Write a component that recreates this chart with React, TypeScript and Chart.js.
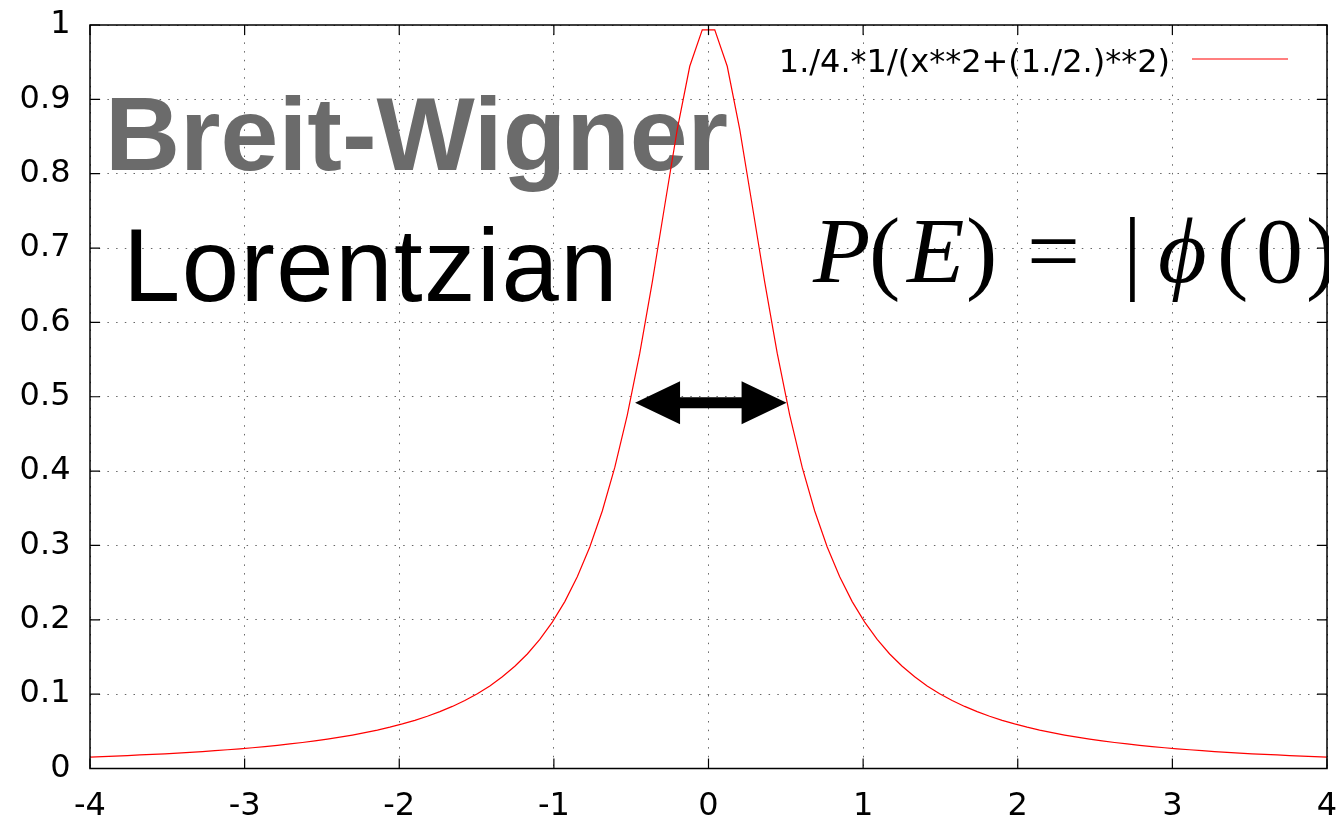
import React, { useEffect, useRef } from "react";
import { Chart, registerables } from "chart.js";

Chart.register(...registerables);

// sampled abscissae of the plotted curve (100 samples from -4 to 4)
const X_SAMPLES = [
  -4.0, -3.9192, -3.8384, -3.7576, -3.6768, -3.596, -3.5152, -3.4343, -3.3535, -3.2727,
  -3.1919, -3.1111, -3.0303, -2.9495, -2.8687, -2.7879, -2.7071, -2.6263, -2.5455, -2.4646,
  -2.3838, -2.303, -2.2222, -2.1414, -2.0606, -1.9798, -1.899, -1.8182, -1.7374, -1.6566,
  -1.5758, -1.4949, -1.4141, -1.3333, -1.2525, -1.1717, -1.0909, -1.0101, -0.9293, -0.8485,
  -0.7677, -0.6869, -0.6061, -0.5253, -0.4444, -0.3636, -0.2828, -0.202, -0.1212, -0.0404,
  0.0404, 0.1212, 0.202, 0.2828, 0.3636, 0.4444, 0.5253, 0.6061, 0.6869, 0.7677,
  0.8485, 0.9293, 1.0101, 1.0909, 1.1717, 1.2525, 1.3333, 1.4141, 1.4949, 1.5758,
  1.6566, 1.7374, 1.8182, 1.899, 1.9798, 2.0606, 2.1414, 2.2222, 2.303, 2.3838,
  2.4646, 2.5455, 2.6263, 2.7071, 2.7879, 2.8687, 2.9495, 3.0303, 3.1111, 3.1919,
  3.2727, 3.3535, 3.4343, 3.5152, 3.596, 3.6768, 3.7576, 3.8384, 3.9192, 4.0,
];

const Y_VALUES = [
  0.0154, 0.016, 0.0167, 0.0174, 0.0182, 0.019, 0.0198, 0.0208, 0.0217, 0.0228,
  0.024, 0.0252, 0.0265, 0.0279, 0.0295, 0.0312, 0.033, 0.035, 0.0372, 0.0395,
  0.0421, 0.045, 0.0482, 0.0517, 0.0556, 0.06, 0.0648, 0.0703, 0.0765, 0.0835,
  0.0915, 0.1006, 0.1111, 0.1233, 0.1375, 0.154, 0.1736, 0.1968, 0.2245, 0.2578,
  0.2979, 0.3464, 0.405, 0.4754, 0.5586, 0.6541, 0.7576, 0.8597, 0.9445, 0.9935,
  0.9935, 0.9445, 0.8597, 0.7576, 0.6541, 0.5586, 0.4754, 0.405, 0.3464, 0.2979,
  0.2578, 0.2245, 0.1968, 0.1736, 0.154, 0.1375, 0.1233, 0.1111, 0.1006, 0.0915,
  0.0835, 0.0765, 0.0703, 0.0648, 0.06, 0.0556, 0.0517, 0.0482, 0.045, 0.0421,
  0.0395, 0.0372, 0.035, 0.033, 0.0312, 0.0295, 0.0279, 0.0265, 0.0252, 0.024,
  0.0228, 0.0217, 0.0208, 0.0198, 0.019, 0.0182, 0.0174, 0.0167, 0.016, 0.0154,
];

const X_TICK_LABELS = ["-4", "-3", "-2", "-1", "0", "1", "2", "3", "4"];
const Y_TICK_LABELS = ["0", "0.1", "0.2", "0.3", "0.4", "0.5", "0.6", "0.7", "0.8", "0.9", "1"];

const SERIES_LABEL = "1./4.*1/(x**2+(1./2.)**2)";
const TITLE_TEXT = "Breit-Wigner";
const SUBTITLE_TEXT = "Lorentzian";

// double arrow marking the width at half maximum (data coordinates)
const ARROW_FROM = -0.475;
const ARROW_TO = 0.505;
const ARROW_Y = 0.492;

// formula pieces: text, italic?, x origin
const FORMULA = [
  { t: "P", it: true, x: 813 },
  { t: "(", it: false, x: 869 },
  { t: "E", it: true, x: 907 },
  { t: ")", it: false, x: 966 },
  { t: "=", it: false, x: 1027 },
  { t: "|", it: false, x: 1123 },
  { t: "\u03D5", it: true, x: 1158 },
  { t: "(", it: false, x: 1217 },
  { t: "0", it: false, x: 1256 },
  { t: ")", it: false, x: 1306 },
];

const TICK_FONT = { family: "'DejaVu Sans', sans-serif", size: 32 };

const overlayPlugin = {
  id: "overlay",
  beforeDatasetsDraw(chart: any) {
    const ctx = chart.ctx as CanvasRenderingContext2D;
    const area = chart.chartArea;
    ctx.save();
    ctx.textAlign = "left";
    ctx.textBaseline = "alphabetic";
    ctx.fillStyle = "#6b6b6b";
    ctx.font = "bold 104px 'Liberation Sans', Arial, sans-serif";
    ctx.fillText(TITLE_TEXT, 105, 170);
    ctx.fillStyle = "#000";
    ctx.font = "103px 'Liberation Sans', Arial, sans-serif";
    (ctx as any).letterSpacing = "1.5px";
    ctx.fillText(SUBTITLE_TEXT, 123, 300.5);
    (ctx as any).letterSpacing = "0px";
    ctx.beginPath();
    ctx.rect(0, 0, area.right + 2, chart.height);
    ctx.clip();
    for (const s of FORMULA) {
      ctx.font = `${s.it ? "italic " : ""}94px 'Liberation Serif', 'Times New Roman', serif`;
      ctx.fillText(s.t, s.x, 282);
    }
    ctx.restore();
  },
  afterDatasetsDraw(chart: any) {
    const ctx = chart.ctx as CanvasRenderingContext2D;
    const xs = chart.scales.x;
    const ys = chart.scales.y;
    const x1 = xs.getPixelForValue(ARROW_FROM);
    const x2 = xs.getPixelForValue(ARROW_TO);
    const y = ys.getPixelForValue(ARROW_Y);
    const headLen = 45;
    const headHalf = 21.5;
    const shaftHalf = 5.5;
    ctx.save();
    ctx.fillStyle = "#000";
    ctx.beginPath();
    ctx.moveTo(x1, y);
    ctx.lineTo(x1 + headLen, y - headHalf);
    ctx.lineTo(x1 + headLen, y - shaftHalf);
    ctx.lineTo(x2 - headLen, y - shaftHalf);
    ctx.lineTo(x2 - headLen, y - headHalf);
    ctx.lineTo(x2, y);
    ctx.lineTo(x2 - headLen, y + headHalf);
    ctx.lineTo(x2 - headLen, y + shaftHalf);
    ctx.lineTo(x1 + headLen, y + shaftHalf);
    ctx.lineTo(x1 + headLen, y + headHalf);
    ctx.closePath();
    ctx.fill();
    ctx.restore();
  },
  afterDraw(chart: any) {
    const ctx = chart.ctx as CanvasRenderingContext2D;
    const a = chart.chartArea;
    const xs = chart.scales.x;
    const ys = chart.scales.y;
    ctx.save();
    ctx.strokeStyle = "#000";
    ctx.lineWidth = 1.2;
    const tl = 10;
    ctx.beginPath();
    for (const t of xs.ticks) {
      const px = xs.getPixelForValue(t.value);
      ctx.moveTo(px, a.bottom);
      ctx.lineTo(px, a.bottom - tl);
      ctx.moveTo(px, a.top);
      ctx.lineTo(px, a.top + tl);
    }
    for (const t of ys.ticks) {
      const py = ys.getPixelForValue(t.value);
      ctx.moveTo(a.left, py);
      ctx.lineTo(a.left + tl, py);
      ctx.moveTo(a.right, py);
      ctx.lineTo(a.right - tl, py);
    }
    ctx.stroke();
    ctx.lineWidth = 1.5;
    ctx.strokeRect(a.left, a.top, a.right - a.left, a.bottom - a.top);

    // key
    ctx.fillStyle = "#000";
    ctx.font = "32px 'DejaVu Sans', sans-serif";
    ctx.textAlign = "right";
    ctx.textBaseline = "alphabetic";
    ctx.fillText(SERIES_LABEL, 1170, 71.7);
    ctx.strokeStyle = "#ff0000";
    ctx.lineWidth = 1.2;
    ctx.beginPath();
    ctx.moveTo(1192, 59);
    ctx.lineTo(1288, 59);
    ctx.stroke();
    ctx.restore();
  },
};

export default function App() {
  const canvasRef = useRef<HTMLCanvasElement | null>(null);

  useEffect(() => {
    const canvas = canvasRef.current;
    if (!canvas) return;
    const points = X_SAMPLES.map((x, i) => ({ x, y: Y_VALUES[i] }));
    const gridColor = "rgba(0,0,0,0.6)";
    const chart = new Chart(canvas, {
      type: "line",
      data: {
        datasets: [
          {
            label: SERIES_LABEL,
            data: points,
            borderColor: "#ff0000",
            borderWidth: 1.2,
            pointRadius: 0,
            tension: 0,
            fill: false,
          },
        ],
      },
      options: {
        responsive: false,
        animation: false,
        devicePixelRatio: 1,
        events: [],
        layout: { padding: { top: 25, right: 10, left: 0, bottom: 0 } },
        plugins: {
          legend: { display: false },
          tooltip: { enabled: false },
          title: { display: false },
        },
        scales: {
          x: {
            type: "linear",
            min: -4,
            max: 4,
            afterFit: (s: any) => {
              s.height = 49.5;
              s.paddingLeft = 0;
              s.paddingRight = 0;
            },
            ticks: {
              stepSize: 1,
              autoSkip: false,
              maxRotation: 0,
              padding: 19,
              color: "#000",
              font: TICK_FONT,
              callback: (_v: any, i: number) => X_TICK_LABELS[i],
            },
            grid: { color: gridColor, lineWidth: 1, drawTicks: false },
            border: { display: false, dash: [1.5, 7.2] },
          },
          y: {
            type: "linear",
            min: 0,
            max: 1,
            afterFit: (s: any) => {
              s.width = 90;
              s.paddingTop = 0;
              s.paddingBottom = 0;
            },
            ticks: {
              stepSize: 0.1,
              autoSkip: false,
              padding: 19.5,
              color: "#000",
              font: TICK_FONT,
              callback: (_v: any, i: number) => Y_TICK_LABELS[i],
            },
            grid: { color: gridColor, lineWidth: 1, drawTicks: false },
            border: { display: false, dash: [1.5, 7.2] },
          },
        },
      },
      plugins: [overlayPlugin],
    } as any);
    return () => chart.destroy();
  }, []);

  return (
    <div
      style={{
        position: "fixed",
        left: 0,
        top: 0,
        width: 1337,
        height: 818,
        background: "#fff",
        overflow: "hidden",
      }}
    >
      <canvas ref={canvasRef} width={1337} height={818} style={{ display: "block" }} />
    </div>
  );
}
